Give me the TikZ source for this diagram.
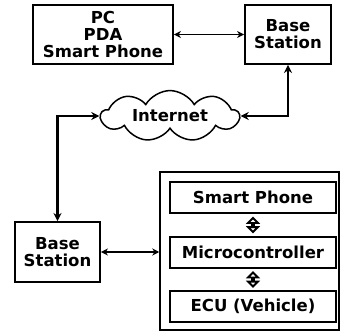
\documentclass[tikz,border=0pt]{standalone}
\usepackage{fontspec}
\setmainfont{DejaVu Sans}
\usetikzlibrary{shapes.symbols,shapes.arrows,arrows.meta}
\begin{document}
\begin{tikzpicture}[x=1pt,y=-1pt,
 txt/.style={font=\bfseries\fontsize{16.5}{17}\selectfont},
 box/.style={draw, line width=1.9pt, txt, align=center, inner sep=0pt},
 link/.style={line width=1.7pt, {Stealth[length=7pt,width=7pt]}-{Stealth[length=7pt,width=7pt]}},
 boldlink/.style={line width=2.8pt, {Stealth[length=8pt,width=8pt]}-{Stealth[length=8pt,width=8pt]}},
 updown/.style={draw, line width=1.8pt, fill=white, shape=double arrow, rotate=90, minimum height=14pt, minimum width=4pt, double arrow head extend=4pt, inner sep=0pt},
]
\useasboundingbox (0,0) rectangle (341,332);
\node[box, minimum width=140, minimum height=59] (pc) at (103,34.5) {PC\\PDA\\Smart Phone};
\node[box, minimum width=86, minimum height=59] (bs1) at (288,34.5) {Base\\Station};
\node[cloud, draw, line width=1.5pt, cloud puffs=9, cloud puff arc=120, aspect=3.4, minimum width=138, minimum height=40, inner sep=0pt, txt] (cloud) at (170,116) {Internet};
\node[box, minimum width=85, minimum height=60] (bs2) at (57.5,252) {Base\\Station};
\node[draw, line width=1.5pt, minimum width=179, minimum height=158, inner sep=0pt] (big) at (249.5,251) {};
\node[box, minimum width=166, minimum height=31] (sp) at (253,197.5) {Smart Phone};
\node[box, minimum width=166, minimum height=31] (mc) at (253,252.5) {Microcontroller};
\node[box, minimum width=166, minimum height=31] (ecu) at (253,306.5) {ECU (Vehicle)};
\node[updown] (da1) at (253,225) {};
\node[updown] (da2) at (253,279.5) {};
\draw[link] (pc.east) -- (bs1.west);
\draw[boldlink] (bs1.south) |- (cloud.east);
\draw[boldlink] (cloud.west) -| (bs2.north);
\draw[link] (bs2.east) -- (bs2.east -| big.west);
\end{tikzpicture}
\end{document}
